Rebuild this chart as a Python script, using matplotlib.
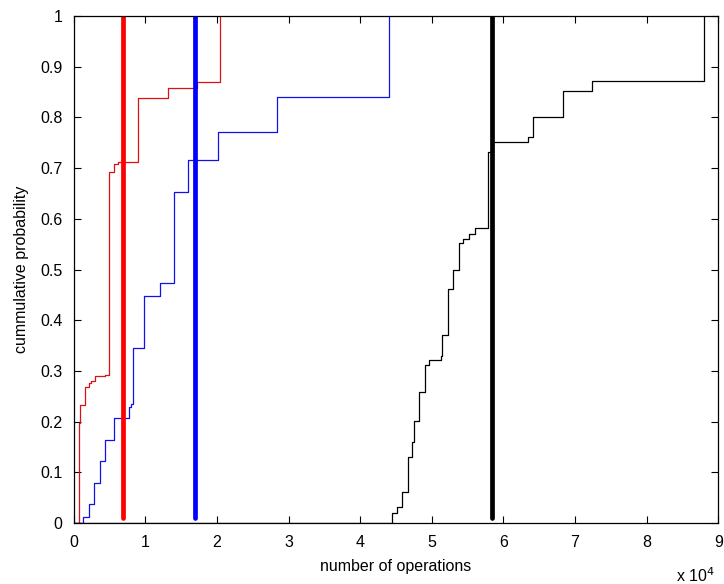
import matplotlib
matplotlib.use("Agg")
from matplotlib import pyplot as plt

plt.rcParams['font.family'] = ['Liberation Sans', 'DejaVu Sans']

# step curves (x in units of 10^4 operations)
red_x = [0, 0.065, 0.088, 0.149, 0.214, 0.237, 0.30, 0.44, 0.49, 0.56, 0.62, 0.90, 1.31, 1.72, 2.04]
red_y = [0, 0.197, 0.233, 0.269, 0.276, 0.281, 0.289, 0.292, 0.693, 0.709, 0.712, 0.839, 0.859, 0.869, 1.0]

blue_x = [0, 0.13, 0.214, 0.28, 0.363, 0.433, 0.563, 0.773, 0.80, 0.83, 0.98, 1.21, 1.40, 1.60, 2.02, 2.84, 4.40]
blue_y = [0, 0.011, 0.037, 0.078, 0.122, 0.163, 0.208, 0.229, 0.235, 0.345, 0.447, 0.474, 0.652, 0.716, 0.772, 0.840, 1.0]

black_x = [0, 4.446, 4.52, 4.585, 4.67, 4.725, 4.75, 4.82, 4.90, 4.96, 5.135, 5.14, 5.23, 5.30, 5.38,
           5.44, 5.52, 5.60, 5.79, 5.85, 6.35, 6.41, 6.83, 7.24, 8.80]
black_y = [0, 0.019, 0.032, 0.061, 0.131, 0.160, 0.201, 0.259, 0.312, 0.321, 0.330, 0.371, 0.461, 0.500, 0.552,
           0.561, 0.570, 0.582, 0.732, 0.751, 0.761, 0.801, 0.852, 0.872, 1.0]

# thick vertical markers
mark_x = [0.68, 1.694, 5.84]
mark_colors = ['#ff0000', '#0000ff', '#000000']

xticks = list(range(0, 10))
yticks = [0, 0.1, 0.2, 0.3, 0.4, 0.5, 0.6, 0.7, 0.8, 0.9, 1]
ytick_labels = ['0', '0.1', '0.2', '0.3', '0.4', '0.5', '0.6', '0.7', '0.8', '0.9', '1']

fig = plt.figure(figsize=(7.24, 5.84), dpi=100)
ax = fig.add_axes([0.102, 0.1045, 0.890, 0.868])

ax.step(red_x, red_y, where='post', color='#dd1111', lw=0.9)
ax.step(blue_x, blue_y, where='post', color='#1111ee', lw=0.9)
ax.step(black_x, black_y, where='post', color='k', lw=0.9)

for mx, c in zip(mark_x, mark_colors):
    ax.plot([mx, mx], [0.01, 1.0], color=c, lw=3.4, solid_capstyle='round')

ax.set_xlim(0, 9)
ax.set_ylim(0, 1)
ax.set_xticks(xticks)
ax.set_yticks(yticks)
ax.set_yticklabels(ytick_labels)
ax.tick_params(direction='in', top=True, right=True, length=5, width=0.8, labelsize=11.5)
ax.tick_params(axis='x', pad=9)
ax.tick_params(axis='y', pad=8)
for s in ax.spines.values():
    s.set_linewidth(0.9)

ax.set_xlabel('number of operations', fontsize=11.5, labelpad=6)
ax.set_ylabel('cummulative probability', fontsize=11.5, labelpad=8)
fig.text(0.934, 0.004, r'x 10$^{4}$', fontsize=11.5)

fig.savefig('out.png', dpi=100)
